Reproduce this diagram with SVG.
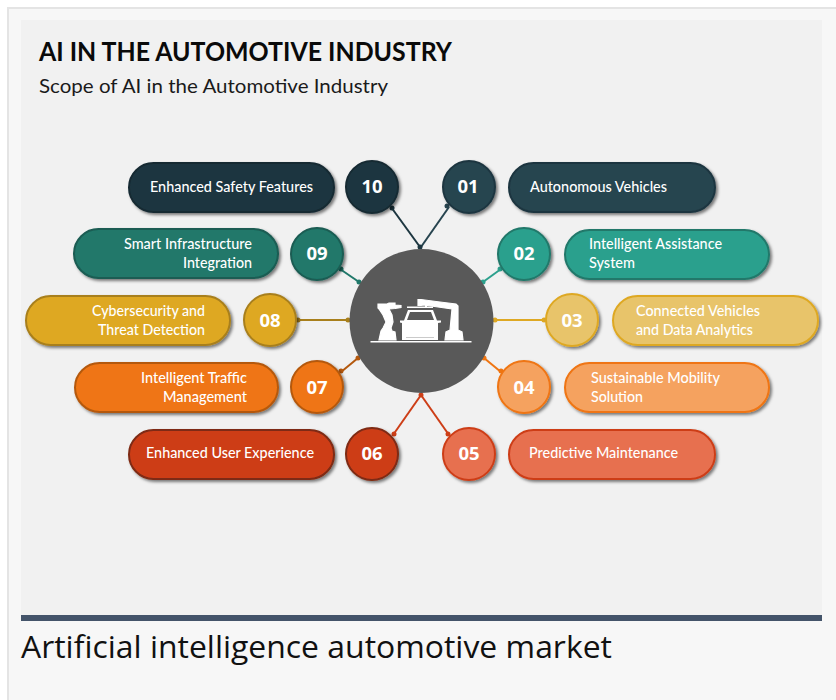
<svg xmlns="http://www.w3.org/2000/svg" width="836" height="700" viewBox="0 0 836 700">
<style>
.pill,.num{filter:url(#sh);stroke-width:2}
.lbl{font:500 14.5px Lato,"Open Sans",sans-serif;fill:#fff}
.n{font:700 18.5px "Open Sans",sans-serif;fill:#fff;text-anchor:middle}
.e{text-anchor:end}
.c{fill:none;stroke-width:2}
</style>
<defs>
<filter id="sh" x="-20%" y="-20%" width="140%" height="150%"><feDropShadow dx="2" dy="2" stdDeviation="1.6" flood-color="#000" flood-opacity=".5"/></filter>
</defs>
<rect width="836" height="700" fill="#fff"/>
<rect x="8" y="8" width="840" height="700" fill="#f7f7f7" stroke="#e4e4e4" stroke-width="2"/>
<rect x="21" y="20" width="801" height="596" fill="#f1f1f1"/>
<rect x="21" y="615" width="801" height="6" fill="#44546a"/>
<text x="39" y="61" font-family="Lato,sans-serif" font-weight="700" font-size="26" fill="#0a0a0a" textLength="413" lengthAdjust="spacingAndGlyphs">AI IN THE AUTOMOTIVE INDUSTRY</text>
<text x="39" y="93" font-family="Lato,sans-serif" font-size="20" fill="#1a1a1a" textLength="349" lengthAdjust="spacingAndGlyphs">Scope of AI in the Automotive Industry</text>
<text x="21" y="658" font-family="'Open Sans',sans-serif" font-size="31" fill="#111" textLength="591" lengthAdjust="spacingAndGlyphs">Artificial intelligence automotive market</text>

<g id="connectors" class="c">
<path d="M391 207L420 247" stroke="#1d3640"/><path d="M449 207L421 247" stroke="#27444f"/>
<path d="M340 269L359 282" stroke="#20786a"/><path d="M501 269L483 282" stroke="#2ca08d"/>
<path d="M297 320H349" stroke="#a87f1c"/><path d="M545 320H494" stroke="#dea823"/>
<path d="M341 372L358 358" stroke="#b4580d"/><path d="M501 372L484 358" stroke="#ef7512"/>
<path d="M393 435L421 395" stroke="#cd3e17"/><path d="M449 435L421 395" stroke="#cd3e17"/>
<g stroke="none">
<circle cx="392" cy="208" r="2.5" fill="#1d3640"/><circle cx="447" cy="206" r="2.5" fill="#27444f"/><circle cx="420" cy="247" r="2.5" fill="#1d3640"/>
<circle cx="341" cy="269" r="2.5" fill="#20786a"/><circle cx="359" cy="282" r="2.5" fill="#20786a"/><circle cx="500" cy="269" r="2.5" fill="#2ca08d"/><circle cx="483" cy="282" r="2.5" fill="#2ca08d"/>
<circle cx="298" cy="320" r="2.5" fill="#a87f1c"/><circle cx="348" cy="320" r="2.5" fill="#a87f1c"/><circle cx="544" cy="320" r="2.5" fill="#dea823"/><circle cx="495" cy="320" r="2.5" fill="#dea823"/>
<circle cx="341" cy="371" r="2.5" fill="#b4580d"/><circle cx="358" cy="358" r="2.5" fill="#b4580d"/><circle cx="501" cy="371" r="2.5" fill="#ef7512"/><circle cx="484" cy="358" r="2.5" fill="#ef7512"/>
<circle cx="394" cy="434" r="2.5" fill="#cd3e17"/><circle cx="448" cy="434" r="2.5" fill="#cd3e17"/><circle cx="421" cy="395" r="2.5" fill="#cd3e17"/>
</g>
</g>

<g id="hub">
<circle cx="421.5" cy="321" r="72" fill="#595959"/>
<g fill="#fff" stroke="#fff" stroke-width="1.2">
<rect x="370.500" y="341" width="101" height="1.500" stroke="none"/>
<path d="M378 304H387L389 303H395V305L401 305.500V307.500L395 308.500L389 309L392 315L393 322L391 328L392 331L395 332L396 340H379L381 331L383 328L386 322L383 315L379 309L378 308Z"/>
<path d="M418 299.500H421L440 302L456 304L458 306V330L462 332L463 340H445L446 332L450 330L452 309L424 305L421 305.500H418Z"/>
</g>
<g fill="#fff">
<path d="M400 320.500L404 320.500L408 310H433L437 320.500L441 320.500V322.500L438 323V340H402V323L400 322.500Z"/>
<path d="M407 306.500H433V308H407ZM425 303H427V307H425Z"/>
</g>
<path fill="#595959" d="M410 312H431L434 320H407Z"/>
<path fill="none" stroke="#bdbdbd" stroke-width=".8" d="M406 337.500H434"/>
</g>

<g id="node-01"><rect class="pill" x="509" y="163" width="206" height="49" rx="24.500" fill="#27444f" stroke="#1d3640"/><circle class="num" cx="469" cy="187" r="26" fill="#27444f" stroke="#1d3640"/><text class="n" x="468" y="193">01</text><text class="lbl" x="530" y="192" textLength="137" lengthAdjust="spacingAndGlyphs">Autonomous Vehicles</text></g>
<g id="node-02"><rect class="pill" x="565" y="230" width="204" height="49" rx="24.500" fill="#2ca08d" stroke="#20786a"/><circle class="num" cx="524" cy="254" r="26" fill="#2ca08d" stroke="#20786a"/><text class="n" x="524" y="260">02</text><text class="lbl" x="589" y="249" textLength="133" lengthAdjust="spacingAndGlyphs">Intelligent Assistance</text><text class="lbl" x="589" y="268" textLength="46" lengthAdjust="spacingAndGlyphs">System</text></g>
<g id="node-03"><rect class="pill" x="613" y="296" width="205" height="49" rx="24.500" fill="#e8c46a" stroke="#dea823"/><circle class="num" cx="572" cy="320" r="26" fill="#e8c46a" stroke="#dea823"/><text class="n" x="572" y="327">03</text><text class="lbl" x="636" y="316" textLength="124" lengthAdjust="spacingAndGlyphs">Connected Vehicles</text><text class="lbl" x="636" y="335" textLength="117" lengthAdjust="spacingAndGlyphs">and Data Analytics</text></g>
<g id="node-04"><rect class="pill" x="565" y="363" width="204" height="49" rx="24.500" fill="#f5a25f" stroke="#ef7512"/><circle class="num" cx="524" cy="387" r="26" fill="#f5a25f" stroke="#ef7512"/><text class="n" x="524" y="394">04</text><text class="lbl" x="591" y="383" textLength="129" lengthAdjust="spacingAndGlyphs">Sustainable Mobility</text><text class="lbl" x="591" y="402" textLength="52" lengthAdjust="spacingAndGlyphs">Solution</text></g>
<g id="node-05"><rect class="pill" x="509" y="430" width="206" height="49" rx="24.500" fill="#e76f50" stroke="#cd3e17"/><circle class="num" cx="469" cy="454" r="26" fill="#e76f50" stroke="#cd3e17"/><text class="n" x="469" y="460">05</text><text class="lbl" x="529" y="458" textLength="149" lengthAdjust="spacingAndGlyphs">Predictive Maintenance</text></g>
<g id="node-06"><rect class="pill" x="129" y="430" width="205" height="49" rx="24.500" fill="#cd3e17" stroke="#7e2a12"/><circle class="num" cx="372" cy="454" r="26" fill="#cd3e17" stroke="#7e2a12"/><text class="n" x="372" y="460">06</text><text class="lbl e" x="314" y="458" textLength="168" lengthAdjust="spacingAndGlyphs">Enhanced User Experience</text></g>
<g id="node-07"><rect class="pill" x="75" y="363" width="203" height="49" rx="24.500" fill="#ef7512" stroke="#b4580d"/><circle class="num" cx="317" cy="387" r="26" fill="#ef7512" stroke="#b4580d"/><text class="n" x="317" y="394">07</text><text class="lbl e" x="247" y="383" textLength="106" lengthAdjust="spacingAndGlyphs">Intelligent Traffic</text><text class="lbl e" x="247" y="402" textLength="84" lengthAdjust="spacingAndGlyphs">Management</text></g>
<g id="node-08"><rect class="pill" x="26" y="296" width="204" height="49" rx="24.500" fill="#dea823" stroke="#a87f1c"/><circle class="num" cx="270" cy="320" r="26" fill="#dea823" stroke="#a87f1c"/><text class="n" x="270" y="327">08</text><text class="lbl e" x="205" y="316" textLength="113" lengthAdjust="spacingAndGlyphs">Cybersecurity and</text><text class="lbl e" x="205" y="335" textLength="107" lengthAdjust="spacingAndGlyphs">Threat Detection</text></g>
<g id="node-09"><rect class="pill" x="74" y="229" width="204" height="49" rx="24.500" fill="#20786a" stroke="#1a5c52"/><circle class="num" cx="317" cy="254" r="26" fill="#20786a" stroke="#1a5c52"/><text class="n" x="317" y="260">09</text><text class="lbl e" x="252" y="249" textLength="128" lengthAdjust="spacingAndGlyphs">Smart Infrastructure</text><text class="lbl e" x="252" y="268" textLength="69" lengthAdjust="spacingAndGlyphs">Integration</text></g>
<g id="node-10"><rect class="pill" x="129" y="163" width="205" height="49" rx="24.500" fill="#1d3640" stroke="#162a33"/><circle class="num" cx="372" cy="187" r="26" fill="#1d3640" stroke="#162a33"/><text class="n" x="372" y="193">10</text><text class="lbl e" x="313" y="192" textLength="163" lengthAdjust="spacingAndGlyphs">Enhanced Safety Features</text></g>
</svg>
